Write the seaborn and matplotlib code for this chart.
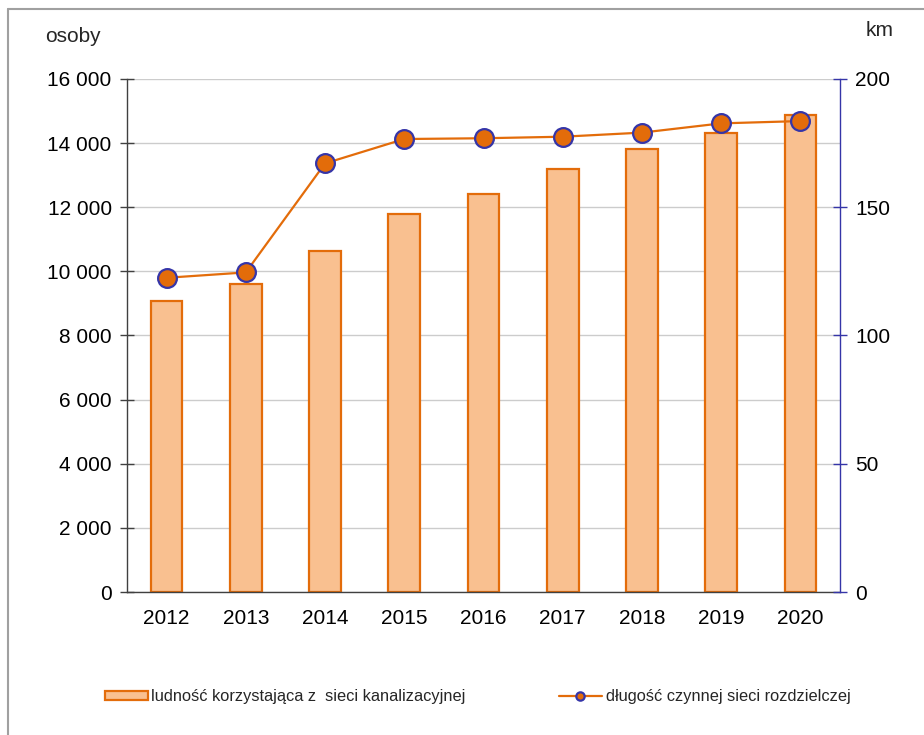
import matplotlib
matplotlib.use("Agg")
import matplotlib.pyplot as plt
from matplotlib.lines import Line2D
from matplotlib.patches import Patch
from matplotlib.ticker import FuncFormatter, MultipleLocator
import seaborn as sns
import pandas as pd
import numpy as np

# dane
years = ['2012', '2013', '2014', '2015', '2016', '2017', '2018', '2019', '2020']
ludnosc = [9080, 9610, 10620, 11790, 12410, 13190, 13820, 14310, 14880]
dlugosc_km = [122.5, 124.6, 167.1, 176.6, 176.9, 177.5, 179.1, 182.7, 183.6]

bar_label = 'ludność korzystająca z  sieci kanalizacyjnej'
line_label = 'długość czynnej sieci rozdzielczej'

df = pd.DataFrame({'rok': years, 'osoby': ludnosc, 'km': dlugosc_km})

sns.set_style('white')
plt.rcParams['font.family'] = ['Liberation Sans', 'DejaVu Sans']

orange = '#E36C0A'
peach = '#F9C090'
navy = '#3535A8'

fig = plt.figure(figsize=(9.24, 7.35), dpi=100)
ax = fig.add_axes([127/924, 1 - 592/735, (840 - 127)/924, (592 - 79)/735])

sns.barplot(data=df, x='rok', y='osoby', ax=ax, color=peach, width=0.4,
            edgecolor=orange, linewidth=1.6, saturation=1, zorder=2)
ax.set_xlim(-0.5, 8.5)
ax.set_ylim(0, 16000)
ax.yaxis.set_major_locator(MultipleLocator(2000))
ax.yaxis.set_major_formatter(FuncFormatter(lambda v, p: f'{int(v):,}'.replace(',', ' ')))
ax.grid(axis='y', color='#cccccc', linewidth=1, zorder=0)
ax.set_axisbelow(True)
ax.set_xlabel('')
ax.set_ylabel('')

# ticks on x between categories
ax.set_xticks(np.arange(-0.5, 9, 1), minor=True)
ax.tick_params(axis='x', which='major', length=0, labelsize=15, pad=12, colors='black')
ax.tick_params(axis='x', which='minor', length=8, width=1, direction='out', color='#404040')
ax.tick_params(axis='y', which='major', length=10, width=1, direction='inout',
               labelsize=15, pad=6, color='#404040', labelcolor='black')

for s in ['top', 'right']:
    ax.spines[s].set_visible(False)
ax.spines['left'].set_color('#404040')
ax.spines['bottom'].set_color('#404040')
ax.spines['left'].set_linewidth(1)
ax.spines['bottom'].set_linewidth(1)

ax2 = ax.twinx()
sns.lineplot(data=df, x='rok', y='km', ax=ax2, color=orange, linewidth=1.6,
             marker='o', markersize=13.5, markerfacecolor=orange,
             markeredgecolor=navy, markeredgewidth=1.6, zorder=3)
ax2.set_ylim(0, 200)
ax2.set_xlim(-0.5, 8.5)
ax2.yaxis.set_major_locator(MultipleLocator(50))
ax2.set_ylabel('')
ax2.set_xlabel('')
ax2.tick_params(axis='y', which='major', length=10, width=1, direction='inout',
                labelsize=15, pad=6, color=navy, labelcolor='black')
for s in ['top', 'left', 'bottom']:
    ax2.spines[s].set_visible(False)
ax2.spines['right'].set_color(navy)
ax2.spines['right'].set_linewidth(1)
ax2.grid(False)

fig.text(45/924, 1 - 37/735, 'osoby', fontsize=15, ha='left', va='center')
fig.text(866/924, 1 - 30/735, 'km', fontsize=15, ha='left', va='center')

# legendy
h1 = Patch(facecolor=peach, edgecolor=orange, linewidth=1.6)
h2 = Line2D([], [], color=orange, linewidth=1.6, marker='o', markersize=6,
            markerfacecolor=orange, markeredgecolor=navy, markeredgewidth=1.6)
fig.legend([h1], [bar_label], loc='center left', bbox_to_anchor=(105/924, 1 - 697/735),
           frameon=False, borderpad=0, borderaxespad=0, handlelength=2.65,
           handleheight=0.45, handletextpad=0.15, prop={'size': 11.8})
fig.legend([h2], [line_label], loc='center left', bbox_to_anchor=(559/924, 1 - 697/735),
           frameon=False, borderpad=0, borderaxespad=0, handlelength=2.6,
           handletextpad=0.25, prop={'size': 11.8})

# ramka
fig.add_artist(Line2D([8/924, 8/924], [0, 1 - 9/735], color='#a0a0a0', linewidth=1.5,
                      transform=fig.transFigure))
fig.add_artist(Line2D([8/924, 1], [1 - 9/735, 1 - 9/735], color='#a0a0a0', linewidth=1.5,
                      transform=fig.transFigure))

fig.savefig('out.png', dpi=100)
